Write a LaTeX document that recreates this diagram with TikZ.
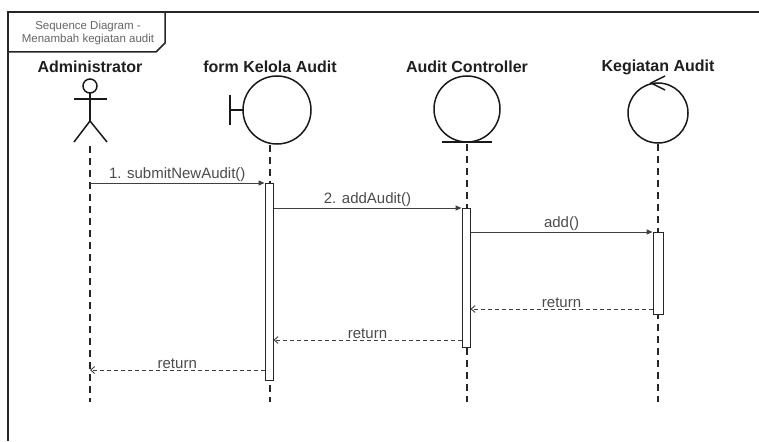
\documentclass[tikz,border=0pt]{standalone}
\usepackage{fontspec}
\setmainfont{Liberation Sans}
\usetikzlibrary{arrows.meta}
\begin{document}
\begin{tikzpicture}[x=1pt,y=-1pt,
  frameline/.style={draw=black!85, line width=2pt},
  shapeline/.style={draw=black!90, line width=1.5pt},
  lifeline/.style={draw=black!85, line width=1.6pt, dash pattern=on 7pt off 5pt},
  act/.style={draw=black!85, fill=white, line width=1pt, minimum width=8pt, inner sep=0pt, anchor=north},
  msg/.style={draw=black!75, line width=1pt, -{Triangle[length=6pt,width=5pt]}},
  ret/.style={draw=black!75, line width=0.9pt, dash pattern=on 4pt off 3pt, -{Straight Barb[length=4pt,width=7pt]}},
  lbl/.style={font=\fontsize{15}{16}\selectfont, text=black!70, inner sep=0.5pt},
  lname/.style={font=\bfseries\fontsize{16}{18}\selectfont, text=black!88, inner sep=0pt},
  ttl/.style={font=\fontsize{11.5}{12.5}\selectfont, text=black!60, align=center, inner sep=0pt}
]
\useasboundingbox (0,0) rectangle (759,441);
\fill[white] (0,0) rectangle (759,441);

% frame
\draw[frameline] (759,12) -- (8,12) -- (8,441);
\draw[line width=1.5pt, draw=black!85] (8,12) -- (165,12) -- (165,43) -- (156,52) -- (8,52);
\node[ttl] (title) at (88,33) {Sequence Diagram -\\Menambah kegiatan audit};

% lifeline names
\node[lname] (nAdm) at (90,67) {Administrator};
\node[lname] (nForm) at (270,67) {form Kelola Audit};
\node[lname] (nCtrl) at (467,67) {Audit Controller};
\node[lname] (nKeg) at (658,67) {Kegiatan Audit};

% actor
\draw[shapeline] (90,86) circle (7);
\draw[shapeline] (90,93) -- (90,121);
\draw[shapeline] (74,99) -- (107,99);
\draw[shapeline] (74,142) -- (90,121) -- (107,142);

% boundary
\draw[shapeline] (277,110) circle (34);
\draw[shapeline] (230,95) -- (230,125);
\draw[shapeline] (230,110) -- (243,110);

% entity-like controller
\draw[shapeline] (467,109) circle (33);
\draw[shapeline] (442,142) -- (492,142);

% control
\draw[shapeline] (658,113) circle (30);
\draw[shapeline] (665,76) -- (651,83) -- (665,90);

% lifelines
\coordinate (admTop) at (90,146);
\coordinate (admBot) at (90,402);
\coordinate (formTop) at (270,145);
\coordinate (formBot) at (270,402);
\coordinate (ctrlTop) at (467,144);
\coordinate (ctrlBot) at (467,402);
\coordinate (kegTop) at (658,144);
\coordinate (kegBot) at (658,402);
\draw[lifeline] (admTop) -- (admBot);
\draw[lifeline] (formTop) -- (formBot);
\draw[lifeline] (ctrlTop) -- (ctrlBot);
\draw[lifeline] (kegTop) -- (kegBot);

% activations
\node[act, minimum height=197pt] (a1) at (269,183) {};
\node[act, minimum height=139pt] (a2) at (466,208) {};
\node[act, minimum height=82pt, minimum width=10pt] (a3) at (658,232) {};

% messages
\coordinate (m1s) at (90,183);
\draw[msg] (m1s) -- node[lbl, above] {1. submitNewAudit()} (a1.north west);
\draw[msg] (a1.east |- 0,208) -- node[lbl, above] {2. addAudit()} (a2.north west);
\draw[msg] (a2.east |- 0,232) -- node[lbl, above] {add()} (a3.north west);
\draw[ret] (a3.west |- 0,309) -- node[lbl, above] {return} (a2.east |- 0,309);
\draw[ret] (a2.west |- 0,340) -- node[lbl, above] {return} (a1.east |- 0,340);
\coordinate (r3e) at (90,370);
\draw[ret] (a1.west |- 0,370) -- node[lbl, above] {return} (r3e);
\end{tikzpicture}
\end{document}
